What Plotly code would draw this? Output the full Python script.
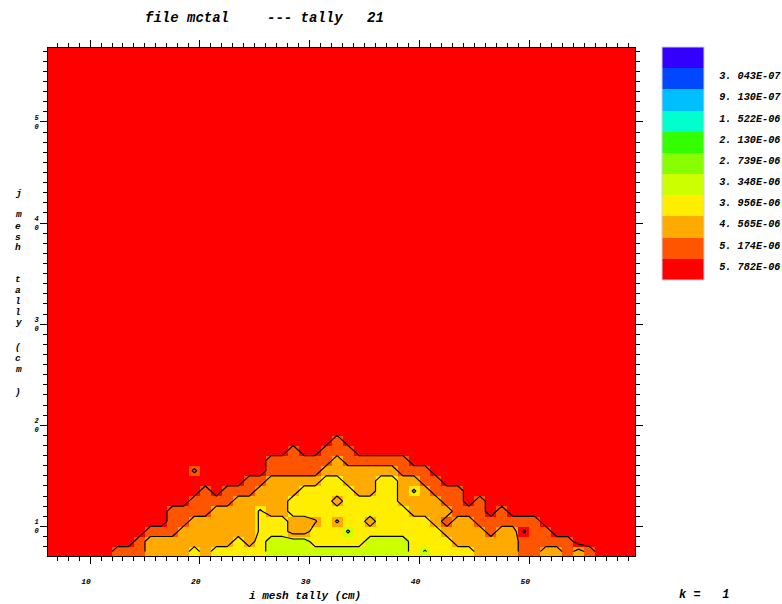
import plotly.graph_objects as go

# ---------------- data ----------------
# contour / colour levels shown in the legend (lower bound of bands 2..11)
levels = [3.043e-07, 9.130e-07, 1.522e-06, 2.130e-06, 2.739e-06,
          3.348e-06, 3.956e-06, 4.565e-06, 5.174e-06, 5.782e-06]
band_colors = ["#3300ff", "#0048ff", "#00bfff", "#00ffcc", "#33ff00", "#88ff00",
               "#ccff00", "#ffee00", "#ffaa00", "#ff5500", "#ff0000"]

# mesh cell edges (cm)
i_edges = list(range(6, 61))
j_edges = list(range(7, 59))

# representative tally value of each cell class (L lime, Y yellow, A orange,
# O orange-red, R red; lower-case = value close to a contour level)
cell_value = {"L": 3.65e-06, "l": 3.90e-06, "Y": 4.26e-06, "y": 4.50e-06,
              "a": 4.62e-06, "A": 4.87e-06, "O": 5.48e-06, "o": 5.70e-06,
              "r": 5.85e-06, "R": 6.09e-06}
background_class = "R"

# cells below the red level, per i column, listed from j row 7 upward
dome_columns = {
    12: "O", 13: "O", 14: "OO", 15: "AAO", 16: "AAO", 17: "AAOOO", 18: "AAAOO",
    19: "YAAAOORRo", 20: "AAAAOOO", 21: "YAAAAO", 22: "YAAAAOO", 23: "YYAAAAO",
    24: "YAAAAAOO", 25: "YYyyyAAO", 26: "LLYYAAAAOO", 27: "LLYYAAAAOO",
    28: "LLAAYYAAOOO", 29: "LLAAYYYAOO", 30: "LYYaYYYAOO", 31: "LYYYYYYYAOO",
    32: "LYYaYAYYAAOO", 33: "LYlYYYYAAOO", 34: "LYYYYYAAAO", 35: "LLYAYYAAAO",
    36: "LLYYYYYYAO", 37: "LLYYYYYYAO", 38: "LLYYYAAAOO", 39: "YYYYAAyAO",
    40: "lYYYAAAOO", 41: "YYYAAAOO", 42: "YYAOAOO", 43: "YAAAOOO", 44: "YAAAO",
    45: "AAAOOO", 46: "AAOO", 47: "AAAOO", 48: "AAAO", 49: "OOrO", 50: "OOOO",
    51: "AOO", 52: "AO", 53: "OO", 54: "A", 55: "O",
}

x_ticks = [10, 20, 30, 40, 50]
y_ticks = [10, 20, 30, 40, 50]

# ---------------- build grid ----------------
n_i = len(i_edges) - 1
n_j = len(j_edges) - 1
i_centers = [(i_edges[k] + i_edges[k + 1]) / 2 for k in range(n_i)]
j_centers = [(j_edges[k] + j_edges[k + 1]) / 2 for k in range(n_j)]

z = []
for r in range(n_j):
    row = []
    for c in range(n_i):
        col = dome_columns.get(i_edges[c], "")
        cls = col[r] if r < len(col) else background_class
        row.append(cell_value[cls])
    z.append(row)

step = (levels[-1] - levels[0]) / (len(levels) - 1)
zmin = levels[0] - step
zmax = levels[-1] + step

# The legend lists the lowest band at the top, so the heatmap is coloured on
# the negated value axis (same colours per cell), which flips the colour bar.
z_flip = [[-v for v in row] for row in z]
flip_colors = band_colors[::-1]
nb = len(flip_colors)
colorscale = []
for k, c in enumerate(flip_colors):
    colorscale.append([k / nb, c])
    colorscale.append([(k + 1) / nb, c])

mono = "Liberation Mono"
pad = "\u00a0\u00a0"
tick_text = [pad + f"{v:.3E}".replace(".", ". ") for v in levels]

fig = go.Figure()
fig.add_trace(go.Heatmap(
    x=i_edges, y=j_edges, z=z_flip, zmin=-zmax, zmax=-zmin,
    colorscale=colorscale, zsmooth=False, hoverinfo="skip",
    colorbar=dict(
        lenmode="pixels", len=233.4, thicknessmode="pixels", thickness=42,
        x=1.0455, xanchor="left", y=1.0014, yanchor="top",
        xpad=0, ypad=0, outlinewidth=1, outlinecolor="#d0d0e0",
        tickmode="array", tickvals=[-v for v in levels], ticktext=tick_text,
        ticks="", ticklabelposition="outside bottom",
        tickfont=dict(family=mono, size=10.2, color="black",
                      weight="bold", style="italic"),
    ),
))
fig.add_trace(go.Contour(
    x=i_centers, y=j_centers, z=z, showscale=False, hoverinfo="skip",
    autocontour=False,
    contours=dict(start=levels[0], end=levels[-1] + step / 2, size=step,
                  coloring="none"),
    line=dict(color="black", width=1.2, smoothing=0),
))

L, R, T, B = 48, 147, 48, 48
W, H = 782, 604
pw, ph = W - L - R, H - T - B


def px(xp, yp):
    return (xp - L) / pw, (H - B - yp) / ph


tfont = dict(family=mono, color="black", weight="bold", style="italic")
ann = []
for text, xp, yp, size in [("file mctal", 143, 17.5, 14),
                           ("--- tally", 265, 17.5, 14),
                           ("21", 365, 17.5, 14),
                           ("k =   1", 677, 595, 12)]:
    ax, ay = px(xp, yp)
    ann.append(dict(text=text, x=ax, y=ay, xref="paper", yref="paper",
                    xanchor="left", yanchor="middle", showarrow=False,
                    font=dict(tfont, size=size)))
ax, ay = px(305, 596)
ann.append(dict(text="i mesh tally (cm)", x=ax, y=ay, xref="paper", yref="paper",
                xanchor="center", yanchor="middle", showarrow=False,
                font=dict(tfont, size=11)))
# vertical y-axis title, one letter per line as in the reference
y_title_letters = [("j", 193), ("m", 215), ("e", 226), ("s", 237), ("h", 248),
                   ("t", 279), ("a", 290), ("l", 301), ("l", 312), ("y", 323),
                   ("(", 347), ("c", 358), ("m", 369), (")", 392)]
for ch, yp in y_title_letters:
    ax, ay = px(18, yp)
    ann.append(dict(text=ch, x=ax, y=ay, xref="paper", yref="paper",
                    xanchor="center", yanchor="middle", showarrow=False,
                    font=dict(tfont, size=9.5)))

axis_common = dict(
    showline=True, linecolor="black", linewidth=1, mirror="ticks",
    ticks="outside", ticklen=7, tickwidth=1, tickcolor="black",
    showgrid=False, zeroline=False,
    minor=dict(tickmode="linear", tick0=0, dtick=1, ticks="outside",
               ticklen=4, tickwidth=1, tickcolor="black", showgrid=False),
)
fig.update_layout(
    width=W, height=H,
    margin=dict(l=L, r=R, t=T, b=B, autoexpand=False),
    paper_bgcolor="white", plot_bgcolor="white", showlegend=False,
    xaxis=dict(axis_common, range=[6.17, 59.63], tickmode="array",
               tickvals=x_ticks, ticktext=[str(v) for v in x_ticks],
               tickfont=dict(tfont, size=8), ticklabelstandoff=10,
               ticklabelshift=-4),
    yaxis=dict(axis_common, range=[7.07, 57.31], tickmode="array",
               tickvals=y_ticks,
               ticktext=["<br>".join(str(v)) for v in y_ticks],
               tickfont=dict(tfont, size=7)),
    annotations=ann,
)
fig.write_html("out.html")
